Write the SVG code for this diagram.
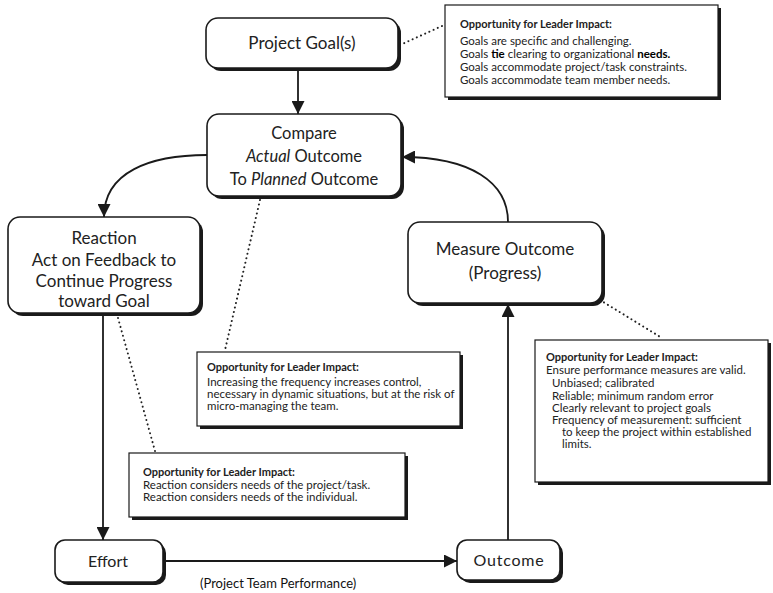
<svg xmlns="http://www.w3.org/2000/svg" width="773" height="593" viewBox="0 0 773 593">
  <defs>
    <marker id="arrow" viewBox="0 0 13 13" refX="13" refY="6.5" markerWidth="13" markerHeight="13" markerUnits="userSpaceOnUse" orient="auto">
      <path d="M0,0 L13,6.5 L0,13 Z" fill="#1a1a1a"/>
    </marker>
    <style>
      .box { fill: #fff; stroke: #1a1a1a; stroke-width: 1.6; }
      .shadow { fill: #1a1a1a; }
      .note { fill: #fff; stroke: #1a1a1a; stroke-width: 1.2; }
      .label { font-family: Lato, "Open Sans", sans-serif; font-size: 17px; fill: #222; text-anchor: middle; }
      .ntitle { font-family: Lato, "Open Sans", sans-serif; font-size: 11px; font-weight: bold; fill: #222; }
      .ntext { font-family: Lato, "Open Sans", sans-serif; font-size: 11.5px; fill: #222; }
      .conn { fill: none; stroke: #1a1a1a; stroke-width: 1.8; }
      .dots { fill: none; stroke: #222; stroke-width: 2; stroke-dasharray: 0.1 4.5; stroke-linecap: round; }
      .caption { font-family: Lato, "Open Sans", sans-serif; font-size: 13px; fill: #111; }
    </style>
  </defs>

  <!-- connectors -->
  <g id="connectors">
    <line class="conn" x1="298" y1="70" x2="298" y2="114" marker-end="url(#arrow)"/>
    <path class="conn" d="M207,155 C150,155 104,172 104,217" marker-end="url(#arrow)"/>
    <path class="conn" d="M508,222 C508,182 470,157 402,157" marker-end="url(#arrow)"/>
    <line class="conn" x1="103" y1="315" x2="103" y2="540" marker-end="url(#arrow)"/>
    <line class="conn" x1="163" y1="561" x2="457" y2="561" marker-end="url(#arrow)"/>
    <line class="conn" x1="508" y1="540" x2="508" y2="304" marker-end="url(#arrow)"/>
    <!-- dotted leaders to the annotation boxes -->
    <line class="dots" x1="400" y1="45" x2="442" y2="26"/>
    <line class="dots" x1="260" y1="200" x2="225" y2="350"/>
    <line class="dots" x1="118" y1="318" x2="155" y2="451"/>
    <line class="dots" x1="600" y1="300" x2="662" y2="338"/>
  </g>

  <!-- process nodes -->
  <g id="project-goal">
    <rect class="shadow" x="209" y="21" width="192" height="50" rx="12"/>
    <rect class="box" x="206" y="18" width="192" height="50" rx="12"/>
    <text class="label" x="302" y="49">Project Goal(s)</text>
  </g>

  <g id="compare">
    <rect class="shadow" x="210" y="117" width="194" height="82" rx="12"/>
    <rect class="box" x="207" y="114" width="194" height="82" rx="12"/>
    <text class="label" x="304" y="139" style="font-size:16.5px">Compare</text>
    <text class="label" x="304" y="162" style="font-size:16.5px"><tspan font-style="italic">Actual</tspan> Outcome</text>
    <text class="label" x="304" y="185" style="font-size:16.5px">To <tspan font-style="italic">Planned</tspan> Outcome</text>
  </g>

  <g id="reaction">
    <rect class="shadow" x="11" y="220" width="192" height="96" rx="12"/>
    <rect class="box" x="8" y="217" width="192" height="96" rx="12"/>
    <text class="label" x="104" y="244">Reaction</text>
    <text class="label" x="104" y="266">Act on Feedback to</text>
    <text class="label" x="104" y="287">Continue Progress</text>
    <text class="label" x="104" y="307">toward Goal</text>
  </g>

  <g id="measure">
    <rect class="shadow" x="411" y="225" width="194" height="81" rx="12"/>
    <rect class="box" x="408" y="222" width="194" height="81" rx="12"/>
    <text class="label" x="505" y="255">Measure Outcome</text>
    <text class="label" x="505" y="279">(Progress)</text>
  </g>

  <g id="effort">
    <rect class="shadow" x="58" y="543" width="108" height="42" rx="10"/>
    <rect class="box" x="55" y="540" width="108" height="42" rx="10"/>
    <text class="label" x="108" y="567" style="font-size:16px">Effort</text>
  </g>

  <g id="outcome">
    <rect class="shadow" x="460" y="543" width="103" height="40" rx="10"/>
    <rect class="box" x="457" y="540" width="103" height="40" rx="10"/>
    <text class="label" x="509" y="566" style="font-size:16px; letter-spacing:0.8px">Outcome</text>
  </g>

  <text class="caption" x="200" y="588">(Project Team Performance)</text>

  <!-- annotation boxes -->
  <g id="note-goal">
    <rect class="shadow" x="448" y="8" width="273" height="92"/>
    <rect class="note" x="445" y="5" width="273" height="92"/>
    <text class="ntitle" x="460" y="28">Opportunity for Leader Impact:</text>
    <text class="ntext" x="460" y="45">Goals are specific and challenging.</text>
    <text class="ntext" x="460" y="58">Goals <tspan font-weight="bold" fill="#000">tie</tspan> clearing to organizational <tspan font-weight="bold" fill="#000">needs.</tspan></text>
    <text class="ntext" x="460" y="71">Goals accommodate project/task constraints.</text>
    <text class="ntext" x="460" y="84">Goals accommodate team member needs.</text>
  </g>

  <g id="note-compare">
    <rect class="shadow" x="200" y="355" width="263" height="74"/>
    <rect class="note" x="197" y="352" width="263" height="74"/>
    <text class="ntitle" x="207" y="371">Opportunity for Leader Impact:</text>
    <text class="ntext" x="207" y="386">Increasing the frequency increases control,</text>
    <text class="ntext" x="207" y="398">necessary in dynamic situations, but at the risk of</text>
    <text class="ntext" x="207" y="410">micro-managing the team.</text>
  </g>

  <g id="note-reaction">
    <rect class="shadow" x="132" y="456" width="276" height="64"/>
    <rect class="note" x="129" y="453" width="276" height="64"/>
    <text class="ntitle" x="143" y="476">Opportunity for Leader Impact:</text>
    <text class="ntext" x="143" y="489">Reaction considers needs of the project/task.</text>
    <text class="ntext" x="143" y="501">Reaction considers needs of the individual.</text>
  </g>

  <g id="note-measure">
    <rect class="shadow" x="538" y="343" width="233" height="142"/>
    <rect class="note" x="535" y="340" width="233" height="142"/>
    <text class="ntitle" x="546" y="361">Opportunity for Leader Impact:</text>
    <text class="ntext" x="546" y="374">Ensure performance measures are valid.</text>
    <text class="ntext" x="552" y="387">Unbiased; calibrated</text>
    <text class="ntext" x="552" y="400">Reliable; minimum random error</text>
    <text class="ntext" x="552" y="412">Clearly relevant to project goals</text>
    <text class="ntext" x="552" y="424">Frequency of measurement: sufficient</text>
    <text class="ntext" x="562" y="436">to keep the project within established</text>
    <text class="ntext" x="562" y="448">limits.</text>
  </g>
</svg>
